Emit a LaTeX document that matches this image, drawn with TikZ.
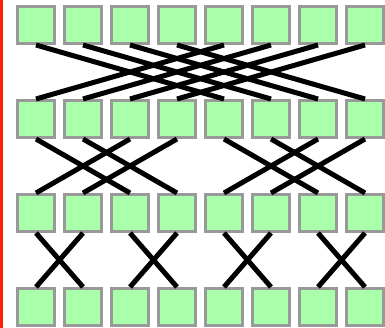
\documentclass[tikz,border=0pt]{standalone}
\definecolor{sqfill}{RGB}{170,255,170}
\definecolor{sqedge}{RGB}{153,153,153}
\definecolor{redbar}{RGB}{255,34,0}
\tikzset{
  sq/.style={draw=sqedge, fill=sqfill, line width=3pt, minimum size=37pt, inner sep=0pt, outer sep=auto},
  wire/.style={line width=5pt, black}
}
\begin{document}
\begin{tikzpicture}[x=1pt,y=-1pt]
\useasboundingbox (0,0) rectangle (385,328);
\fill[redbar] (0,0) rectangle (3,328);
\foreach \r/\y in {1/25,2/119,3/213,4/307}{
  \foreach \c in {0,...,7}{
    \node[sq] (r\r c\c) at ({36+47*\c},\y) {};
  }
}
% stage 1: stride 4
\foreach \a/\b in {0/4,1/5,2/6,3/7,4/0,5/1,6/2,7/3}{
  \draw[wire] (r1c\a.south) -- (r2c\b.north);
}
% stage 2: stride 2
\foreach \a/\b in {0/2,1/3,2/0,3/1,4/6,5/7,6/4,7/5}{
  \draw[wire] (r2c\a.south) -- (r3c\b.north);
}
% stage 3: stride 1
\foreach \a/\b in {0/1,1/0,2/3,3/2,4/5,5/4,6/7,7/6}{
  \draw[wire] (r3c\a.south) -- (r4c\b.north);
}
\end{tikzpicture}
\end{document}
